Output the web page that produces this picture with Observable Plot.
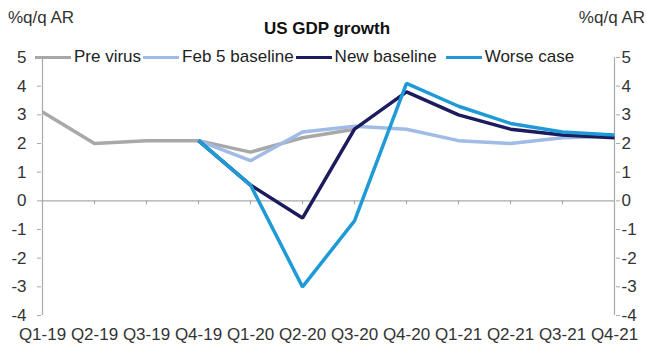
<!DOCTYPE html>
<html>
<head>
<meta charset="utf-8">
<script src="https://cdn.jsdelivr.net/npm/d3@7"></script>
<script src="https://cdn.jsdelivr.net/npm/@observablehq/plot@0.6"></script>
<style>
  body { margin: 0; background: #fff; font-family: "Liberation Sans", Arial, sans-serif; }
  #wrap { position: relative; width: 646px; height: 345px; overflow: hidden; }
  .abs { position: absolute; white-space: nowrap; color: #333; line-height: 20px; }
  #title { left: 0; width: 654px; text-align: center; top: 19px; font-size: 17px; font-weight: bold; color: #111; }
  #unitL { left: 8px; top: 8px; font-size: 17px; }
  #unitR { right: 1px; top: 8px; font-size: 17px; }
  #legend { left: 35px; top: 47px; display: flex; align-items: center; font-size: 17px; color: #222; }
  #legend .sw { display: inline-block; width: 36px; height: 3px; margin-left: 2px; margin-right: 3px; }
  #legend .sw.first { margin-left: 0; }
  #legend .sw.wide { margin-left: 9px; }
</style>
</head>
<body>
<div id="wrap">
  <div id="chart"></div>
  <div class="abs" id="title"></div>
  <div class="abs" id="unitL"></div>
  <div class="abs" id="unitR"></div>
  <div class="abs" id="legend"></div>
</div>
<script>
const titleText = "US GDP growth";
const unitText = "%q/q AR";
const categories = ["Q1-19","Q2-19","Q3-19","Q4-19","Q1-20","Q2-20","Q3-20","Q4-20","Q1-21","Q2-21","Q3-21","Q4-21"];
const seriesNames = ["Pre virus", "Feb 5 baseline", "New baseline", "Worse case"];
const seriesColors = ["#a8a8a8", "#9fbbe6", "#1b1b5e", "#1f9ad6"];
const preVirus    = [3.1, 2.0, 2.1, 2.1, 1.7, 2.2, 2.5, null, null, null, null, null];
const feb5Base    = [null, null, null, 2.1, 1.4, 2.4, 2.6, 2.5, 2.1, 2.0, 2.2, 2.25];
const newBase     = [null, null, null, 2.1, 0.55, -0.6, 2.5, 3.8, 3.0, 2.5, 2.3, 2.2];
const worseCase   = [null, null, null, 2.1, 0.55, -3.0, -0.7, 4.1, 3.3, 2.7, 2.4, 2.3];
const yTicks = [-4, -3, -2, -1, 0, 1, 2, 3, 4, 5];

const seriesValues = [preVirus, feb5Base, newBase, worseCase];
const rows = [];
seriesNames.forEach((name, s) => {
  seriesValues[s].forEach((v, i) => {
    if (v !== null) rows.push({series: name, q: categories[i], v});
  });
});

const axisColor = "#a9a9a9";
const textColor = "#333";
const fmt = d => String(d);

const chart = Plot.plot({
  width: 646,
  height: 345,
  marginLeft: 41,
  marginRight: 31,
  marginTop: 57,
  marginBottom: 30,
  style: { fontFamily: "Liberation Sans, Arial, sans-serif", fontSize: "17px", color: textColor, background: "#fff" },
  x: { type: "point", domain: categories, padding: 0 },
  y: { domain: [-4, 5] },
  color: { domain: seriesNames, range: seriesColors },
  marks: [
    Plot.ruleY([0], { stroke: axisColor, strokeWidth: 1.2 }),
    Plot.ruleX(categories.slice(1, -1), { y1: 0, y2: 0, insetBottom: -4, stroke: axisColor, strokeWidth: 1.2 }),
    Plot.ruleX([categories[0], categories[categories.length - 1]], { y1: -4, y2: 5, stroke: axisColor, strokeWidth: 1.2 }),
    Plot.axisY({ anchor: "left", ticks: yTicks, tickFormat: fmt, tickSize: 4, tickPadding: 11, stroke: axisColor, fill: textColor, fontSize: 17, label: null }),
    Plot.axisY({ anchor: "right", ticks: yTicks, tickFormat: fmt, tickSize: 4, tickPadding: 2, stroke: axisColor, fill: textColor, fontSize: 17, label: null }),
    Plot.axisX({ anchor: "bottom", tickSize: 0, tickPadding: 12, fill: textColor, fontSize: 17, label: null }),
    Plot.line(rows, { x: "q", y: "v", z: "series", stroke: "series", strokeWidth: 3.5, strokeLinejoin: "miter", strokeLinecap: "butt" })
  ]
});
document.getElementById("chart").appendChild(chart);

document.getElementById("title").textContent = titleText;
document.getElementById("unitL").textContent = unitText;
document.getElementById("unitR").textContent = unitText;
const legend = document.getElementById("legend");
seriesNames.forEach((name, i) => {
  const sw = document.createElement("span");
  sw.className = "sw" + (i === 0 ? " first" : "") + (i === seriesNames.length - 1 ? " wide" : "");
  sw.style.background = seriesColors[i];
  const lab = document.createElement("span");
  lab.textContent = name;
  legend.appendChild(sw);
  legend.appendChild(lab);
});
</script>
</body>
</html>
